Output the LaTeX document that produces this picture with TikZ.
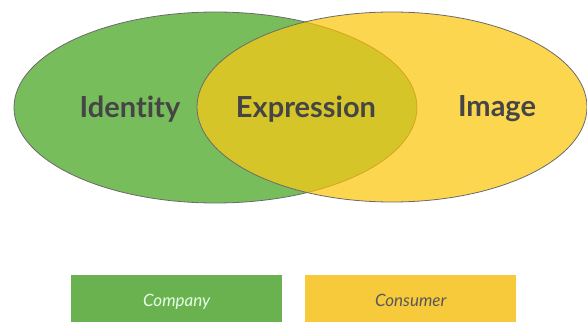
\documentclass[tikz,border=0pt]{standalone}
\usepackage{fontspec}
\setmainfont{Lato}
\newfontfamily\labelfont[Ligatures={NoCommon,NoContextual}]{Lato Bold}
\newfontfamily\legendfont{Lato Italic}
\definecolor{idgreen}{HTML}{78BD5C}
\definecolor{imgyellow}{HTML}{FDD650}
\definecolor{overlapcol}{HTML}{D6C528}
\definecolor{boxgreen}{HTML}{6AB250}
\definecolor{boxyellow}{HTML}{F7CA3C}
\definecolor{inkgray}{HTML}{454545}
\definecolor{rimgray}{HTML}{6A6A6A}
\tikzset{
  x=1pt, y=1pt,
  setlabel/.style={font=\labelfont\fontsize{29}{32}\selectfont, text=inkgray},
  legendbox/.style={minimum width=211pt, minimum height=47pt, inner sep=0pt, anchor=north west, font=\legendfont\fontsize{17}{20}\selectfont},
}
\newcommand\legendtext[1]{\raisebox{-7.5pt}[0pt][0pt]{#1}}
\begin{document}
\begin{tikzpicture}
\useasboundingbox (0,0) rectangle (587,322);
% the two sets
\def\greenset{(215.5,214.5) ellipse [x radius=201.5, y radius=95.5]}
\def\yellowset{(392,215) ellipse [x radius=195, y radius=95]}
\fill[idgreen] \greenset;
\draw[rimgray, line width=0.8pt] \greenset;
\fill[imgyellow] \yellowset;
\begin{scope}
  \clip \yellowset;
  \fill[overlapcol] \greenset;
  \draw[color=orange!60!olive, opacity=0.5, line width=0.8pt] \greenset;
\end{scope}
\draw[rimgray, line width=0.8pt] \yellowset;
% set labels
\node[setlabel] (identity) at (130,213) {Identity};
\node[setlabel] (expression) at (306,213) {Expression};
\node[setlabel] (image) at (497,213) {Image};
% legend
\node[legendbox, fill=boxgreen, text=white!90!green] (company) at (71,47) {\legendtext{Company}};
\node[legendbox, fill=boxyellow, text=inkgray!90] (consumer) at (305,47) {\legendtext{Consumer}};
\end{tikzpicture}
\end{document}
